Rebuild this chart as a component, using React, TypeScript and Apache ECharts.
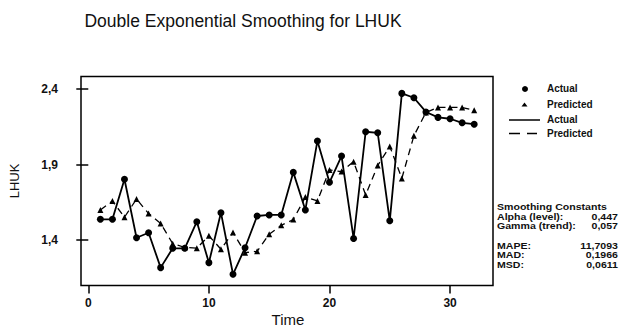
import React, { useEffect, useRef } from "react";
import * as echarts from "echarts";

const time = [1, 2, 3, 4, 5, 6, 7, 8, 9, 10, 11, 12, 13, 14, 15, 16, 17, 18, 19, 20, 21, 22, 23, 24, 25, 26, 27, 28, 29, 30, 31, 32];
const actual = [1.537, 1.537, 1.802, 1.415, 1.448, 1.217, 1.345, 1.345, 1.521, 1.25, 1.581, 1.173, 1.349, 1.559, 1.566, 1.566, 1.848, 1.599, 2.056, 1.782, 1.956, 1.41, 2.117, 2.11, 1.527, 2.371, 2.342, 2.248, 2.212, 2.203, 2.176, 2.167];
const predicted = [1.599, 1.658, 1.551, 1.671, 1.575, 1.51, 1.376, 1.351, 1.346, 1.428, 1.339, 1.45, 1.316, 1.325, 1.438, 1.497, 1.535, 1.684, 1.659, 1.864, 1.853, 1.919, 1.698, 1.893, 2.02, 1.808, 2.09, 2.245, 2.278, 2.278, 2.278, 2.259];
const xTicks = [0, 10, 20, 30];
const yTicks = [1.4, 1.9, 2.4];
const legendItems = ["Actual", "Predicted", "Actual", "Predicted"];
const statsLabels = ["Alpha (level):", "Gamma (trend):", "MAPE:", "MAD:", "MSD:"];
const statsValues = ["0,447", "0,057", "11,7093", "0,1966", "0,0611"];

const FONT = "'Liberation Sans', Arial, sans-serif";

export default function App() {
  const ref = useRef<HTMLDivElement>(null);
  useEffect(() => {
    if (!ref.current) return;
    const chart = echarts.init(ref.current, null, { renderer: "svg" });
    const txt = { fontFamily: FONT, fontWeight: "bold" as const, fontSize: 10, fill: "#111" };
    const small = { fontFamily: FONT, fontWeight: "bold" as const, fontSize: 9.2, fill: "#111" };
    const legendY = [88, 104, 119.5, 133.5];
    const statsY = [216.5, 226, 245.5, 255, 264.5];
    const graphics: any[] = [
      {
        type: "text",
        x: 243,
        y: 21,
        style: { text: "Double Exponential Smoothing for LHUK", fontFamily: FONT, fontSize: 17.5, fill: "#111", textAlign: "center", textVerticalAlign: "middle" },
      },
      { type: "circle", shape: { cx: 525, cy: legendY[0] + 1, r: 3 }, style: { fill: "#000" } },
      { type: "polygon", shape: { points: [[524.5, legendY[1] - 1.5], [521.5, legendY[1] + 2.5], [527.5, legendY[1] + 2.5]] }, style: { fill: "#000" } },
      { type: "line", shape: { x1: 509, y1: legendY[2] + 0.5, x2: 540, y2: legendY[2] + 0.5 }, style: { stroke: "#000", lineWidth: 1.5 } },
      { type: "line", shape: { x1: 509, y1: legendY[3], x2: 537, y2: legendY[3] }, style: { stroke: "#000", lineWidth: 1.5, lineDash: [11, 7] } },
      {
        type: "text",
        x: 497,
        y: 207,
        scaleX: 1.15,
        style: { ...small, text: "Smoothing Constants", textVerticalAlign: "middle" },
      },
    ];
    legendItems.forEach((t, i) => {
      graphics.push({ type: "text", x: 547, y: legendY[i], style: { ...txt, text: t, textVerticalAlign: "middle" } });
    });
    statsLabels.forEach((t, i) => {
      graphics.push({ type: "text", x: 497, y: statsY[i], scaleX: 1.15, style: { ...small, text: t, textVerticalAlign: "middle" } });
      graphics.push({ type: "text", x: 618, y: statsY[i], scaleX: 1.15, style: { ...small, text: statsValues[i], textAlign: "right", textVerticalAlign: "middle" } });
    });
    graphics.push({
      type: "text",
      x: 14,
      y: 181,
      rotation: Math.PI / 2,
      style: { text: "LHUK", fontFamily: FONT, fontSize: 13, fill: "#111", textAlign: "center", textVerticalAlign: "middle" },
    });
    graphics.push({
      type: "text",
      x: 288,
      y: 319,
      style: { text: "Time", fontFamily: FONT, fontSize: 15, fill: "#111", textAlign: "center", textVerticalAlign: "middle" },
    });

    chart.setOption({
      animation: false,
      backgroundColor: "#fff",
      grid: { left: 81, right: 126, top: 76.5, bottom: 41.5, show: true, borderColor: "#000", borderWidth: 1.5, backgroundColor: "transparent" },
      xAxis: {
        type: "value",
        min: -0.605,
        max: 33.56,
        splitLine: { show: false },
        axisLine: { show: false },
        axisTick: { show: true, length: 8, inside: false, customValues: xTicks, lineStyle: { color: "#000", width: 1.5 } },
        axisLabel: { customValues: xTicks, margin: 11, fontFamily: FONT, fontWeight: "bold", fontSize: 12, color: "#111" },
      },
      yAxis: {
        type: "value",
        min: 1.0987,
        max: 2.4828,
        splitLine: { show: false },
        axisLine: { show: false },
        axisTick: { show: true, length: 12, inside: false, customValues: yTicks, lineStyle: { color: "#000", width: 1.5 } },
        axisLabel: {
          customValues: yTicks,
          margin: 23,
          fontFamily: FONT,
          fontWeight: "bold",
          fontSize: 12,
          color: "#111",
          formatter: (v: number) => v.toFixed(1).replace(".", ","),
        },
      },
      series: [
        {
          name: "Actual",
          type: "line",
          data: time.map((t, i) => [t, actual[i]]),
          symbol: "circle",
          symbolSize: 7,
          itemStyle: { color: "#000" },
          lineStyle: { color: "#000", width: 1.8 },
          z: 3,
        },
        {
          name: "Predicted",
          type: "line",
          data: time.map((t, i) => [t, predicted[i]]),
          symbol: "triangle",
          symbolSize: 6,
          itemStyle: { color: "#000" },
          lineStyle: { color: "#000", width: 1.3, type: [7, 5] },
          z: 2,
        },
      ],
      graphic: graphics,
    });
    return () => chart.dispose();
  }, []);
  return <div ref={ref} style={{ width: 619, height: 327, position: "absolute", left: 0, top: 0 }} />;
}
